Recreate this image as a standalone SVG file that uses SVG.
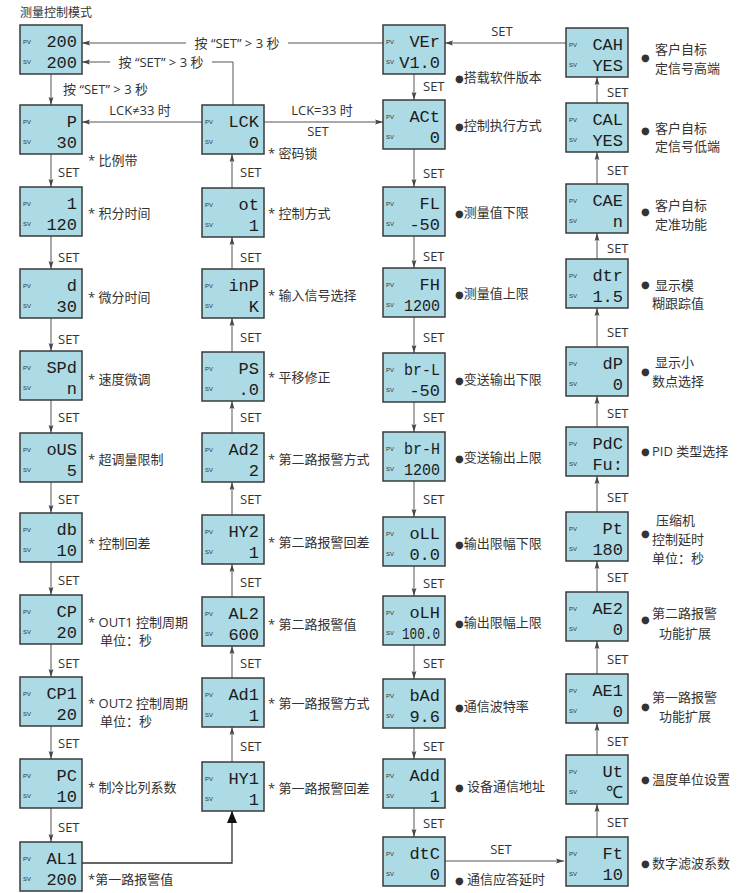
<svg xmlns="http://www.w3.org/2000/svg" width="747" height="893" viewBox="0 0 747 893">
<defs>
<style>
.n rect{fill:#acdae5;stroke:#3a3a3a;stroke-width:1.5}
.pv{font-family:"Liberation Sans",sans-serif;font-size:6px;fill:#333}
.lcd{font-family:"Liberation Mono",monospace;font-size:17px;fill:#1c1c1c;text-anchor:end}
.t{font-family:"Open Sans","Noto Sans CJK SC",sans-serif;font-size:13px;fill:#333}
.m{text-anchor:middle}
.b{font-family:"DejaVu Sans",sans-serif;font-size:10px}
.c path{stroke:#555;stroke-width:1;fill:none}
.c path.k{stroke:#333;stroke-width:1.3}
</style>
<marker id="a" viewBox="0 0 8 6" refX="8" refY="3" markerWidth="8" markerHeight="6" markerUnits="userSpaceOnUse" orient="auto"><path d="M0,0.6 L8,3 L0,5.4 L1.5,3 z" fill="#444"/></marker>
<marker id="A" viewBox="0 0 12 10" refX="12" refY="5" markerWidth="12" markerHeight="10" markerUnits="userSpaceOnUse" orient="auto"><path d="M0,0 L12,5 L0,10 z" fill="#111"/></marker>
</defs>
<rect width="747" height="893" fill="#fff"/>
<text class="t" x="20" y="17" style="font-size:12px">测量控制模式</text>

<g class="c" id="connectors">
<path d="M383,43 H82" marker-end="url(#a)"/>
<path d="M233,105 V62 H82" marker-end="url(#a)"/>
<path d="M202,122 H82" marker-end="url(#a)"/>
<path d="M264,122 H383" marker-end="url(#a)"/>
<path d="M566,43 H445" marker-end="url(#a)"/>
<path d="M445,861 H564" marker-end="url(#a)"/>
<path class="k" d="M82,863 H232 V811" marker-end="url(#A)"/>
<path d="M51,74 V105" marker-end="url(#a)"/>
<path d="M51,154 V187" marker-end="url(#a)"/>
<path d="M51,236 V269" marker-end="url(#a)"/>
<path d="M51,318 V351" marker-end="url(#a)"/>
<path d="M51,400 V433" marker-end="url(#a)"/>
<path d="M51,482 V513" marker-end="url(#a)"/>
<path d="M51,562 V595" marker-end="url(#a)"/>
<path d="M51,644 V677" marker-end="url(#a)"/>
<path d="M51,726 V759" marker-end="url(#a)"/>
<path d="M51,808 V842" marker-end="url(#a)"/>
<path d="M232,188 V154" marker-end="url(#a)"/>
<path d="M232,269 V237" marker-end="url(#a)"/>
<path d="M232,352 V318" marker-end="url(#a)"/>
<path d="M232,433 V401" marker-end="url(#a)"/>
<path d="M232,515 V482" marker-end="url(#a)"/>
<path d="M232,597 V564" marker-end="url(#a)"/>
<path d="M232,678 V646" marker-end="url(#a)"/>
<path d="M232,762 V727" marker-end="url(#a)"/>
<path d="M414,74 V100" marker-end="url(#a)"/>
<path d="M414,149 V187" marker-end="url(#a)"/>
<path d="M414,236 V268" marker-end="url(#a)"/>
<path d="M414,317 V353" marker-end="url(#a)"/>
<path d="M414,402 V432" marker-end="url(#a)"/>
<path d="M414,481 V517" marker-end="url(#a)"/>
<path d="M414,566 V596" marker-end="url(#a)"/>
<path d="M414,645 V679" marker-end="url(#a)"/>
<path d="M414,728 V759" marker-end="url(#a)"/>
<path d="M414,808 V837" marker-end="url(#a)"/>
<path d="M597,103 V77" marker-end="url(#a)"/>
<path d="M597,184 V152" marker-end="url(#a)"/>
<path d="M597,259 V233" marker-end="url(#a)"/>
<path d="M597,347 V308" marker-end="url(#a)"/>
<path d="M597,427 V396" marker-end="url(#a)"/>
<path d="M597,512 V476" marker-end="url(#a)"/>
<path d="M597,592 V561" marker-end="url(#a)"/>
<path d="M597,674 V641" marker-end="url(#a)"/>
<path d="M597,755 V723" marker-end="url(#a)"/>
<path d="M597,837 V804" marker-end="url(#a)"/>
</g>

<g id="edge-labels">
<rect x="186" y="34" width="102" height="18" fill="#fff"/>
<text class="t m" x="237" y="48">按 “SET” &gt; 3 秒</text>
<rect x="110" y="53" width="102" height="18" fill="#fff"/>
<text class="t m" x="161" y="67">按 “SET” &gt; 3 秒</text>
<text class="t" x="63" y="94">按 “SET” &gt; 3 秒</text>
<text class="t m" x="140" y="115">LCK≠33 时</text>
<text class="t m" x="322" y="115">LCK=33 时</text>
<text class="t m" x="318" y="136">SET</text>
<text class="t m" x="502" y="36">SET</text>
<text class="t m" x="501" y="854">SET</text>
<text class="t" x="58" y="177">SET</text>
<text class="t" x="58" y="262">SET</text>
<text class="t" x="58" y="344">SET</text>
<text class="t" x="58" y="422">SET</text>
<text class="t" x="58" y="504">SET</text>
<text class="t" x="58" y="585">SET</text>
<text class="t" x="58" y="668">SET</text>
<text class="t" x="58" y="748">SET</text>
<text class="t" x="58" y="832">SET</text>
<text class="t" x="240" y="177">SET</text>
<text class="t" x="240" y="262">SET</text>
<text class="t" x="240" y="342">SET</text>
<text class="t" x="240" y="422">SET</text>
<text class="t" x="240" y="504">SET</text>
<text class="t" x="240" y="587">SET</text>
<text class="t" x="240" y="668">SET</text>
<text class="t" x="240" y="751">SET</text>
<text class="t" x="423" y="91">SET</text>
<text class="t" x="423" y="178">SET</text>
<text class="t" x="423" y="261">SET</text>
<text class="t" x="423" y="342">SET</text>
<text class="t" x="423" y="422">SET</text>
<text class="t" x="423" y="504">SET</text>
<text class="t" x="423" y="588">SET</text>
<text class="t" x="423" y="668">SET</text>
<text class="t" x="423" y="751">SET</text>
<text class="t" x="423" y="828">SET</text>
<text class="t" x="607" y="97">SET</text>
<text class="t" x="607" y="175">SET</text>
<text class="t" x="607" y="253">SET</text>
<text class="t" x="607" y="337">SET</text>
<text class="t" x="607" y="418">SET</text>
<text class="t" x="607" y="502">SET</text>
<text class="t" x="607" y="582">SET</text>
<text class="t" x="607" y="664">SET</text>
<text class="t" x="607" y="746">SET</text>
<text class="t" x="607" y="827">SET</text>
</g>

<g class="n" id="n-200"><rect x="20" y="25" width="62" height="49"/><text class="pv" x="23" y="44">PV</text><text class="pv" x="23" y="64">SV</text><text class="lcd" x="77" y="47">200</text><text class="lcd" x="77" y="68">200</text></g>
<g class="n" id="n-P"><rect x="20" y="105" width="62" height="49"/><text class="pv" x="23" y="124">PV</text><text class="pv" x="23" y="144">SV</text><text class="lcd" x="77" y="127">P</text><text class="lcd" x="77" y="148">30</text><text class="t" x="88" y="165">* 比例带</text></g>
<g class="n" id="n-I"><rect x="20" y="187" width="62" height="49"/><text class="pv" x="23" y="206">PV</text><text class="pv" x="23" y="226">SV</text><text class="lcd" x="77" y="209">1</text><text class="lcd" x="77" y="230">120</text><text class="t" x="88" y="218">* 积分时间</text></g>
<g class="n" id="n-d"><rect x="20" y="269" width="62" height="49"/><text class="pv" x="23" y="288">PV</text><text class="pv" x="23" y="308">SV</text><text class="lcd" x="77" y="291">d</text><text class="lcd" x="77" y="312">30</text><text class="t" x="88" y="302">* 微分时间</text></g>
<g class="n" id="n-SPd"><rect x="20" y="351" width="62" height="49"/><text class="pv" x="23" y="370">PV</text><text class="pv" x="23" y="390">SV</text><text class="lcd" x="77" y="373">SPd</text><text class="lcd" x="77" y="394">n</text><text class="t" x="88" y="384">* 速度微调</text></g>
<g class="n" id="n-oUS"><rect x="20" y="433" width="62" height="49"/><text class="pv" x="23" y="452">PV</text><text class="pv" x="23" y="472">SV</text><text class="lcd" x="77" y="455">oUS</text><text class="lcd" x="77" y="476">5</text><text class="t" x="88" y="464">* 超调量限制</text></g>
<g class="n" id="n-db"><rect x="20" y="513" width="62" height="49"/><text class="pv" x="23" y="532">PV</text><text class="pv" x="23" y="552">SV</text><text class="lcd" x="77" y="535">db</text><text class="lcd" x="77" y="556">10</text><text class="t" x="88" y="548">* 控制回差</text></g>
<g class="n" id="n-CP"><rect x="20" y="595" width="62" height="49"/><text class="pv" x="23" y="614">PV</text><text class="pv" x="23" y="634">SV</text><text class="lcd" x="77" y="617">CP</text><text class="lcd" x="77" y="638">20</text><text class="t" x="88" y="627">* OUT1 控制周期</text><text class="t" x="100" y="645">单位：秒</text></g>
<g class="n" id="n-CP1"><rect x="20" y="677" width="62" height="49"/><text class="pv" x="23" y="696">PV</text><text class="pv" x="23" y="716">SV</text><text class="lcd" x="77" y="699">CP1</text><text class="lcd" x="77" y="720">20</text><text class="t" x="88" y="708">* OUT2 控制周期</text><text class="t" x="100" y="726">单位：秒</text></g>
<g class="n" id="n-PC"><rect x="20" y="759" width="62" height="49"/><text class="pv" x="23" y="778">PV</text><text class="pv" x="23" y="798">SV</text><text class="lcd" x="77" y="781">PC</text><text class="lcd" x="77" y="802">10</text><text class="t" x="88" y="792">* 制冷比列系数</text></g>
<g class="n" id="n-AL1"><rect x="20" y="842" width="62" height="49"/><text class="pv" x="23" y="861">PV</text><text class="pv" x="23" y="881">SV</text><text class="lcd" x="77" y="864">AL1</text><text class="lcd" x="77" y="885">200</text><text class="t" x="88" y="884">*第一路报警值</text></g>

<g class="n" id="n-LCK"><rect x="202" y="105" width="62" height="49"/><text class="pv" x="205" y="124">PV</text><text class="pv" x="205" y="144">SV</text><text class="lcd" x="259" y="127">LCK</text><text class="lcd" x="259" y="148">0</text><text class="t" x="268" y="158">* 密码锁</text></g>
<g class="n" id="n-ot"><rect x="202" y="188" width="62" height="49"/><text class="pv" x="205" y="207">PV</text><text class="pv" x="205" y="227">SV</text><text class="lcd" x="259" y="210">ot</text><text class="lcd" x="259" y="231">1</text><text class="t" x="268" y="218">* 控制方式</text></g>
<g class="n" id="n-inP"><rect x="202" y="269" width="62" height="49"/><text class="pv" x="205" y="288">PV</text><text class="pv" x="205" y="308">SV</text><text class="lcd" x="259" y="291">inP</text><text class="lcd" x="259" y="312">K</text><text class="t" x="268" y="300">* 输入信号选择</text></g>
<g class="n" id="n-PS"><rect x="202" y="352" width="62" height="49"/><text class="pv" x="205" y="371">PV</text><text class="pv" x="205" y="391">SV</text><text class="lcd" x="259" y="374">PS</text><text class="lcd" x="259" y="395">.0</text><text class="t" x="268" y="382">* 平移修正</text></g>
<g class="n" id="n-Ad2"><rect x="202" y="433" width="62" height="49"/><text class="pv" x="205" y="452">PV</text><text class="pv" x="205" y="472">SV</text><text class="lcd" x="259" y="455">Ad2</text><text class="lcd" x="259" y="476">2</text><text class="t" x="268" y="464">* 第二路报警方式</text></g>
<g class="n" id="n-HY2"><rect x="202" y="515" width="62" height="49"/><text class="pv" x="205" y="534">PV</text><text class="pv" x="205" y="554">SV</text><text class="lcd" x="259" y="537">HY2</text><text class="lcd" x="259" y="558">1</text><text class="t" x="268" y="547">* 第二路报警回差</text></g>
<g class="n" id="n-AL2"><rect x="202" y="597" width="62" height="49"/><text class="pv" x="205" y="616">PV</text><text class="pv" x="205" y="636">SV</text><text class="lcd" x="259" y="619">AL2</text><text class="lcd" x="259" y="640">600</text><text class="t" x="268" y="629">* 第二路报警值</text></g>
<g class="n" id="n-Ad1"><rect x="202" y="678" width="62" height="49"/><text class="pv" x="205" y="697">PV</text><text class="pv" x="205" y="717">SV</text><text class="lcd" x="259" y="700">Ad1</text><text class="lcd" x="259" y="721">1</text><text class="t" x="268" y="708">* 第一路报警方式</text></g>
<g class="n" id="n-HY1"><rect x="202" y="762" width="62" height="49"/><text class="pv" x="205" y="781">PV</text><text class="pv" x="205" y="801">SV</text><text class="lcd" x="259" y="784">HY1</text><text class="lcd" x="259" y="805">1</text><text class="t" x="268" y="793">* 第一路报警回差</text></g>

<g class="n" id="n-VEr"><rect x="383" y="25" width="62" height="49"/><text class="pv" x="386" y="44">PV</text><text class="pv" x="386" y="64">SV</text><text class="lcd" x="440" y="47">VEr</text><text class="lcd" x="440" y="68">V1.0</text><text class="t" x="455" y="82"><tspan class="b">●</tspan>搭载软件版本</text></g>
<g class="n" id="n-ACt"><rect x="383" y="100" width="62" height="49"/><text class="pv" x="386" y="119">PV</text><text class="pv" x="386" y="139">SV</text><text class="lcd" x="440" y="122">ACt</text><text class="lcd" x="440" y="143">0</text><text class="t" x="455" y="130"><tspan class="b">●</tspan>控制执行方式</text></g>
<g class="n" id="n-FL"><rect x="383" y="187" width="62" height="49"/><text class="pv" x="386" y="206">PV</text><text class="pv" x="386" y="226">SV</text><text class="lcd" x="440" y="209">FL</text><text class="lcd" x="440" y="230">-50</text><text class="t" x="455" y="217"><tspan class="b">●</tspan>测量值下限</text></g>
<g class="n" id="n-FH"><rect x="383" y="268" width="62" height="49"/><text class="pv" x="386" y="287">PV</text><text class="pv" x="386" y="307">SV</text><text class="lcd" x="440" y="290">FH</text><text class="lcd" x="440" y="311" textLength="36" lengthAdjust="spacingAndGlyphs">1200</text><text class="t" x="455" y="298"><tspan class="b">●</tspan>测量值上限</text></g>
<g class="n" id="n-brL"><rect x="383" y="353" width="62" height="49"/><text class="pv" x="386" y="372">PV</text><text class="pv" x="386" y="392">SV</text><text class="lcd" x="440" y="375" textLength="36" lengthAdjust="spacingAndGlyphs">br-L</text><text class="lcd" x="440" y="396">-50</text><text class="t" x="455" y="384"><tspan class="b">●</tspan>变送输出下限</text></g>
<g class="n" id="n-brH"><rect x="383" y="432" width="62" height="49"/><text class="pv" x="386" y="451">PV</text><text class="pv" x="386" y="471">SV</text><text class="lcd" x="440" y="454" textLength="36" lengthAdjust="spacingAndGlyphs">br-H</text><text class="lcd" x="440" y="475" textLength="36" lengthAdjust="spacingAndGlyphs">1200</text><text class="t" x="455" y="462"><tspan class="b">●</tspan>变送输出上限</text></g>
<g class="n" id="n-oLL"><rect x="383" y="517" width="62" height="49"/><text class="pv" x="386" y="536">PV</text><text class="pv" x="386" y="556">SV</text><text class="lcd" x="440" y="539">oLL</text><text class="lcd" x="440" y="560">0.0</text><text class="t" x="455" y="548"><tspan class="b">●</tspan>输出限幅下限</text></g>
<g class="n" id="n-oLH"><rect x="383" y="596" width="62" height="49"/><text class="pv" x="386" y="615">PV</text><text class="pv" x="386" y="635">SV</text><text class="lcd" x="440" y="618">oLH</text><text class="lcd" x="440" y="639" textLength="38" lengthAdjust="spacingAndGlyphs">100.0</text><text class="t" x="455" y="627"><tspan class="b">●</tspan>输出限幅上限</text></g>
<g class="n" id="n-bAd"><rect x="383" y="679" width="62" height="49"/><text class="pv" x="386" y="698">PV</text><text class="pv" x="386" y="718">SV</text><text class="lcd" x="440" y="701">bAd</text><text class="lcd" x="440" y="722">9.6</text><text class="t" x="455" y="711"><tspan class="b">●</tspan>通信波特率</text></g>
<g class="n" id="n-Add"><rect x="383" y="759" width="62" height="49"/><text class="pv" x="386" y="778">PV</text><text class="pv" x="386" y="798">SV</text><text class="lcd" x="440" y="781">Add</text><text class="lcd" x="440" y="802">1</text><text class="t" x="455" y="791"><tspan class="b">●</tspan> 设备通信地址</text></g>
<g class="n" id="n-dtC"><rect x="383" y="837" width="62" height="49"/><text class="pv" x="386" y="856">PV</text><text class="pv" x="386" y="876">SV</text><text class="lcd" x="440" y="859">dtC</text><text class="lcd" x="440" y="880">0</text><text class="t" x="455" y="884"><tspan class="b">●</tspan> 通信应答延时</text></g>

<g class="n" id="n-CAH"><rect x="566" y="28" width="62" height="49"/><text class="pv" x="569" y="47">PV</text><text class="pv" x="569" y="67">SV</text><text class="lcd" x="623" y="50">CAH</text><text class="lcd" x="623" y="71">YES</text><text class="t b" x="641" y="61">●</text><text class="t" x="655" y="54">客户自标</text><text class="t" x="655" y="73">定信号高端</text></g>
<g class="n" id="n-CAL"><rect x="566" y="103" width="62" height="49"/><text class="pv" x="569" y="122">PV</text><text class="pv" x="569" y="142">SV</text><text class="lcd" x="623" y="125">CAL</text><text class="lcd" x="623" y="146">YES</text><text class="t b" x="641" y="134">●</text><text class="t" x="655" y="133">客户自标</text><text class="t" x="655" y="151">定信号低端</text></g>
<g class="n" id="n-CAE"><rect x="566" y="184" width="62" height="49"/><text class="pv" x="569" y="203">PV</text><text class="pv" x="569" y="223">SV</text><text class="lcd" x="623" y="206">CAE</text><text class="lcd" x="623" y="227">n</text><text class="t b" x="641" y="215">●</text><text class="t" x="655" y="210">客户自标</text><text class="t" x="655" y="229">定准功能</text></g>
<g class="n" id="n-dtr"><rect x="566" y="259" width="62" height="49"/><text class="pv" x="569" y="278">PV</text><text class="pv" x="569" y="298">SV</text><text class="lcd" x="623" y="281">dtr</text><text class="lcd" x="623" y="302">1.5</text><text class="t b" x="641" y="288">●</text><text class="t" x="655" y="290">显示模</text><text class="t" x="652" y="308">糊跟踪值</text></g>
<g class="n" id="n-dP"><rect x="566" y="347" width="62" height="49"/><text class="pv" x="569" y="366">PV</text><text class="pv" x="569" y="386">SV</text><text class="lcd" x="623" y="369">dP</text><text class="lcd" x="623" y="390">0</text><text class="t b" x="641" y="375">●</text><text class="t" x="655" y="367">显示小</text><text class="t" x="652" y="386">数点选择</text></g>
<g class="n" id="n-PdC"><rect x="566" y="427" width="62" height="49"/><text class="pv" x="569" y="446">PV</text><text class="pv" x="569" y="466">SV</text><text class="lcd" x="623" y="449">PdC</text><text class="lcd" x="623" y="470">Fu:</text><text class="t b" x="641" y="455">●</text><text class="t" x="652" y="456">PID 类型选择</text></g>
<g class="n" id="n-Pt"><rect x="566" y="512" width="62" height="49"/><text class="pv" x="569" y="531">PV</text><text class="pv" x="569" y="551">SV</text><text class="lcd" x="623" y="534">Pt</text><text class="lcd" x="623" y="555">180</text><text class="t b" x="641" y="537">●</text><text class="t" x="656" y="525">压缩机</text><text class="t" x="652" y="544">控制延时</text><text class="t" x="652" y="563">单位：秒</text></g>
<g class="n" id="n-AE2"><rect x="566" y="592" width="62" height="49"/><text class="pv" x="569" y="611">PV</text><text class="pv" x="569" y="631">SV</text><text class="lcd" x="623" y="614">AE2</text><text class="lcd" x="623" y="635">0</text><text class="t b" x="641" y="623">●</text><text class="t" x="652" y="618">第二路报警</text><text class="t" x="659" y="638">功能扩展</text></g>
<g class="n" id="n-AE1"><rect x="566" y="674" width="62" height="49"/><text class="pv" x="569" y="693">PV</text><text class="pv" x="569" y="713">SV</text><text class="lcd" x="623" y="696">AE1</text><text class="lcd" x="623" y="717">0</text><text class="t b" x="641" y="710">●</text><text class="t" x="652" y="702">第一路报警</text><text class="t" x="659" y="721">功能扩展</text></g>
<g class="n" id="n-Ut"><rect x="566" y="755" width="62" height="49"/><text class="pv" x="569" y="774">PV</text><text class="pv" x="569" y="794">SV</text><text class="lcd" x="623" y="777">Ut</text><text class="lcd" x="623" y="798">℃</text><text class="t b" x="641" y="783">●</text><text class="t" x="652" y="784">温度单位设置</text></g>
<g class="n" id="n-Ft"><rect x="566" y="837" width="62" height="49"/><text class="pv" x="569" y="856">PV</text><text class="pv" x="569" y="876">SV</text><text class="lcd" x="623" y="859">Ft</text><text class="lcd" x="623" y="880">10</text><text class="t b" x="641" y="867">●</text><text class="t" x="652" y="868">数字滤波系数</text></g>
</svg>
